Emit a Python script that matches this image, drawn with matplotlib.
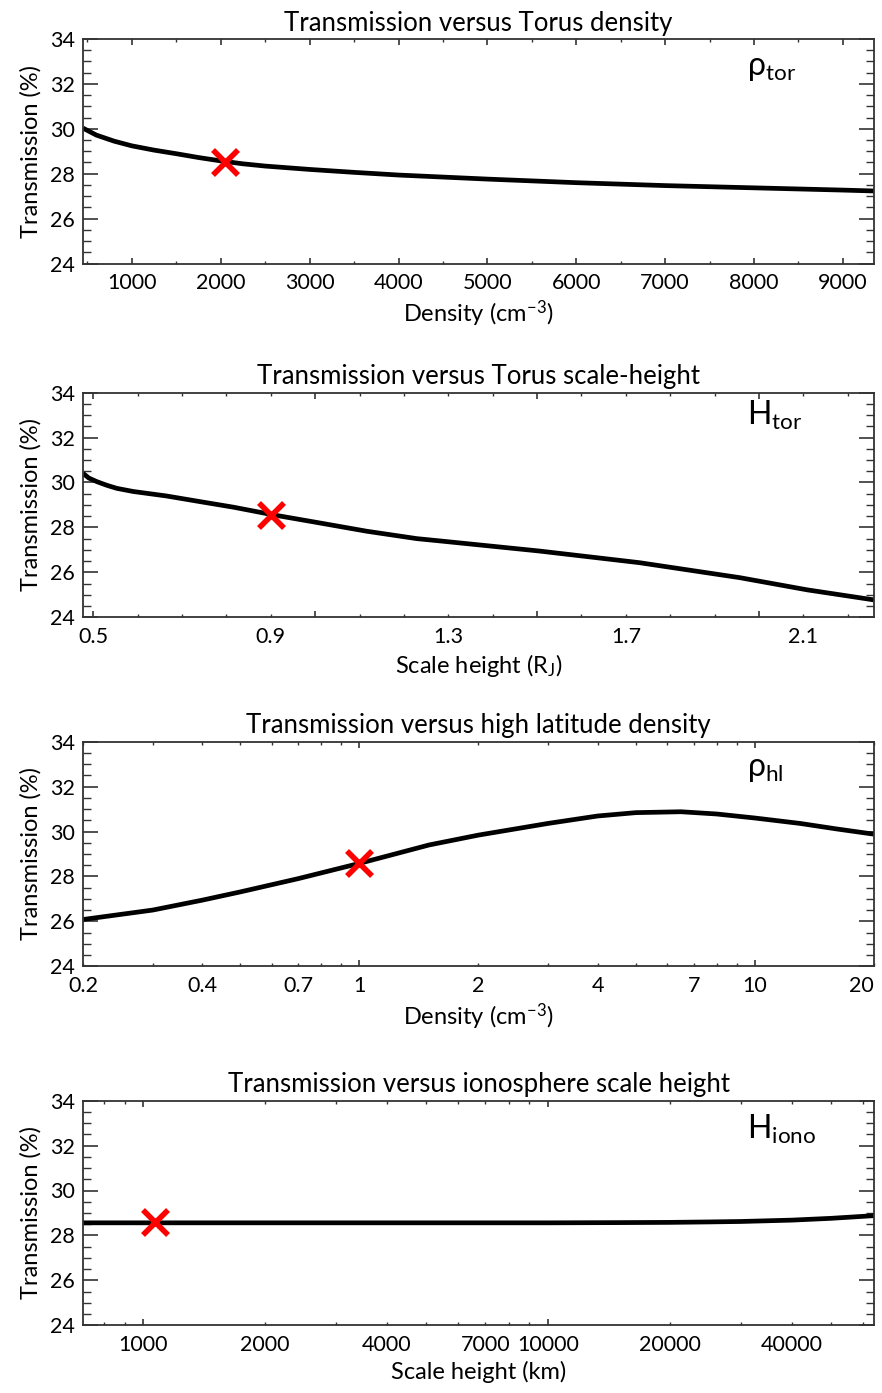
import numpy as np
import matplotlib
matplotlib.use("Agg")
import matplotlib.pyplot as plt
from matplotlib.ticker import FixedLocator, FixedFormatter, FuncFormatter

plt.rcParams["font.family"] = ["Lato", "DejaVu Sans"]
plt.rcParams["mathtext.fontset"] = "custom"
plt.rcParams["mathtext.rm"] = "Lato"
plt.rcParams["mathtext.it"] = "Lato"
plt.rcParams["axes.unicode_minus"] = False

# panel 1: torus density
tor_dens = [450, 600, 800, 1000, 1250, 1500, 1750, 2000, 2250, 2500, 3000, 3500,
            4000, 5000, 6000, 7000, 8000, 9000, 9350]
tor_dens_T = [30.03, 29.72, 29.45, 29.24, 29.05, 28.89, 28.72, 28.57, 28.44, 28.34,
              28.19, 28.06, 27.94, 27.76, 27.6, 27.47, 27.37, 27.27, 27.23]

# panel 2: torus scale height
tor_h = [0.477, 0.49, 0.508, 0.53, 0.553, 0.59, 0.665, 0.74, 0.816, 0.908,
         1.004, 1.116, 1.229, 1.28, 1.504, 1.73, 1.957, 2.108, 2.259]
tor_h_T = [30.41, 30.2, 30.04, 29.88, 29.74, 29.6, 29.4, 29.15, 28.9, 28.55,
           28.22, 27.83, 27.5, 27.4, 26.95, 26.43, 25.76, 25.22, 24.77]

# panel 3: high latitude density
hl_dens = [0.2, 0.3, 0.4, 0.5, 0.7, 1.0, 1.5, 2, 3, 4, 5, 6.5, 8, 10, 13, 16, 20]
hl_dens_T = [26.08, 26.5, 26.94, 27.31, 27.9, 28.58, 29.4, 29.84, 30.36, 30.69,
             30.84, 30.88, 30.78, 30.6, 30.36, 30.12, 29.88]

# panel 4: ionosphere scale height
iono_h = [710, 1000, 2000, 5000, 10000, 15000, 20000, 25000, 30000, 40000,
          50000, 64000]
iono_h_T = [28.56, 28.56, 28.56, 28.56, 28.56, 28.57, 28.58, 28.6, 28.62,
            28.68, 28.76, 28.88]

# nominal values (red crosses)
nominal_x = [2050, 0.9, 1.0, 1070]
nominal_T = [28.5, 28.55, 28.6, 28.6]

titles = ["Transmission versus Torus density",
          "Transmission versus Torus scale-height",
          "Transmission versus high latitude density",
          "Transmission versus ionosphere scale height"]
xlabels = [r"Density (cm$^{\mathregular{-3}}$)",
           r"Scale height (R$_{\mathregular{J}}$)",
           r"Density (cm$^{\mathregular{-3}}$)",
           "Scale height (km)"]
tags = [r"ρ$_{\mathregular{tor}}$", r"H$_{\mathregular{tor}}$",
        r"ρ$_{\mathregular{hl}}$", r"H$_{\mathregular{iono}}$"]
tag_y = [0.87, 0.9, 0.88, 0.87]

TICK_FS = 15.5

W, H = 882, 1393
fig = plt.figure(figsize=(W / 100, H / 100), dpi=100)

tops = [39, 392.7, 741.7, 1100.7]
axes = []
for top in tops:
    bottom = top + 224.5
    axes.append(fig.add_axes([83 / W, 1 - bottom / H, 791 / W, 224.5 / H]))

xs = [tor_dens, tor_h, hl_dens, iono_h]
ys = [tor_dens_T, tor_h_T, hl_dens_T, iono_h_T]

for i, ax in enumerate(axes):
    ax.plot(xs[i], ys[i], color="black", lw=3.4, solid_capstyle="butt")
    ax.plot(nominal_x[i], nominal_T[i], marker="x", color="red",
            markersize=18, mew=4, zorder=5)
    ax.set_ylim(24, 34)
    ax.set_yticks([24, 26, 28, 30, 32, 34])
    ax.set_yticks(np.arange(24, 34.01, 0.5), minor=True)
    ax.set_title(titles[i], fontsize=18.5, pad=6)
    ax.set_xlabel(xlabels[i], fontsize=17, labelpad=4)
    ax.set_ylabel("Transmission (%)", fontsize=17, labelpad=6)
    ax.text(0.84, tag_y[i], tags[i], transform=ax.transAxes, fontsize=23,
            ha="left", va="center")
    for sp in ax.spines.values():
        sp.set_linewidth(1.3)
        sp.set_color("#333333")
    ax.tick_params(axis="both", which="both", direction="in",
                   top=True, right=True, labelsize=TICK_FS, color="#333333")
    ax.tick_params(axis="y", which="major", length=11, width=1.2, pad=6)
    ax.tick_params(axis="y", which="minor", length=6, width=1.0)
    ax.tick_params(axis="x", which="major", length=4, width=1.2, pad=7)
    ax.tick_params(axis="x", which="minor", length=2.5, width=1.0,
                   labelsize=TICK_FS, pad=7)

# panel 1
ax = axes[0]
ax.set_xlim(450, 9350)
ax.set_xticks(range(1000, 9001, 1000))
ax.set_xticks(range(500, 9351, 500), minor=True)

# panel 2: long ticks at 0.5 steps, labels every 0.4
ax = axes[1]
ax.set_xlim(0.477, 2.259)
ax.xaxis.set_major_locator(FixedLocator([0.5, 1.0, 1.5, 2.0]))
ax.xaxis.set_major_formatter(FixedFormatter(["0.5", "", "", ""]))
minor_pos = [round(v, 1) for v in np.arange(0.6, 2.25, 0.1)
             if round(v, 1) not in (1.0, 1.5, 2.0)]
ax.xaxis.set_minor_locator(FixedLocator(minor_pos))
ax.xaxis.set_minor_formatter(FixedFormatter(
    [("%.1f" % v) if v in (0.9, 1.3, 1.7, 2.1) else "" for v in minor_pos]))

# panel 3
ax = axes[2]
ax.set_xscale("log")
ax.set_xlim(0.2, 20)
ax.xaxis.set_major_locator(FixedLocator([1, 10]))
ax.xaxis.set_major_formatter(FixedFormatter(["1", "10"]))
ax.xaxis.set_minor_locator(FixedLocator(
    [0.2, 0.3, 0.4, 0.5, 0.6, 0.7, 0.8, 0.9, 2, 3, 4, 5, 6, 7, 8, 9, 20]))
hl_labels = {0.2: "0.2", 0.4: "0.4", 0.7: "0.7", 2: "2", 4: "4", 7: "7", 20: "20"}
ax.xaxis.set_minor_formatter(FuncFormatter(
    lambda v, p: hl_labels.get(round(v, 1), "")))

# panel 4
ax = axes[3]
ax.set_xscale("log")
ax.set_xlim(710, 63900)
ax.xaxis.set_major_locator(FixedLocator([1000, 10000]))
ax.xaxis.set_major_formatter(FixedFormatter(["1000", "10000"]))
iono_minor = [800, 900] + list(range(2000, 10000, 1000)) + list(range(20000, 64000, 10000))
ax.xaxis.set_minor_locator(FixedLocator(iono_minor))
iono_labels = {2000: "2000", 4000: "4000", 7000: "7000", 20000: "20000", 40000: "40000"}
ax.xaxis.set_minor_formatter(FuncFormatter(
    lambda v, p: iono_labels.get(int(round(v)), "")))

# keep the "20" label at the right edge inside the figure
fig.canvas.draw()
for lab in axes[2].get_xticklabels(minor=True):
    if lab.get_text() == "20":
        lab.set_horizontalalignment("right")

fig.savefig("out.png", dpi=100)
